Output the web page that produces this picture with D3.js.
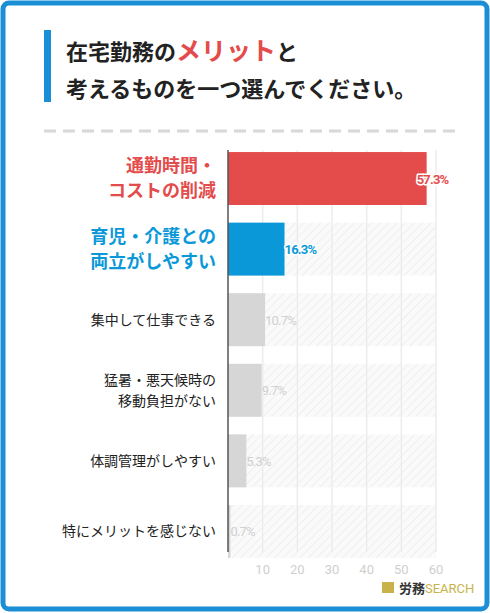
<!DOCTYPE html>
<html><head><meta charset="utf-8">
<script src="https://cdn.jsdelivr.net/npm/d3@7.9.0/dist/d3.min.js"></script>
<style>body{margin:0;background:#fff;font-family:"Noto Sans CJK JP","Noto Sans",sans-serif}</style>
</head><body>
<svg id="chart" width="490" height="613"></svg>
<script>
const labels = [["通勤時間・","コストの削減"],["育児・介護との","両立がしやすい"],["集中して仕事できる"],["猛暑・悪天候時の","移動負担がない"],["体調管理がしやすい"],["特にメリットを感じない"]];
const values = [57.3, 16.3, 10.7, 9.7, 5.3, 0.7];
const barColors = ["#e44b4b", "#0b98d8", "#d6d6d6", "#d6d6d6", "#d6d6d6", "#d6d6d6"];
const labelColors = ["#e44b4b", "#0b98d8", "#222", "#222", "#222", "#222"];
const valueColors = ["#e44b4b", "#0b98d8", "#d0d0d0", "#d0d0d0", "#d0d0d0", "#d0d0d0"];
const ticks = [10, 20, 30, 40, 50, 60];

const svg = d3.select('#chart');
const defs = svg.append('defs');
const pat = defs.append('pattern').attr('id','hatch').attr('patternUnits','userSpaceOnUse')
  .attr('width',6).attr('height',6).attr('patternTransform','rotate(45)');
pat.append('rect').attr('width',6).attr('height',6).attr('fill','#fafafa');
pat.append('line').attr('x1',0).attr('y1',0).attr('x2',0).attr('y2',6).attr('stroke','#ececec').attr('stroke-width',1.5);

// frame
svg.append('rect').attr('x',3).attr('y',3).attr('width',484).attr('height',606).attr('rx',6)
  .attr('fill','none').attr('stroke','#1b8fd6').attr('stroke-width',5);

// title
svg.append('rect').attr('x',44).attr('y',30).attr('width',7).attr('height',72).attr('fill','#1b8fd6');
const t1 = svg.append('text').attr('x',66).attr('y',60).attr('font-size',22).attr('font-weight',700).attr('fill','#222');
t1.append('tspan').text('在宅勤務の');
t1.append('tspan').attr('fill','#e44b4b').attr('font-size',25).text('メリット');
t1.append('tspan').text('と');
svg.append('text').attr('x',66).attr('y',97).attr('font-size',22).attr('font-weight',700).attr('fill','#222').text('考えるものを一つ選んでください。');
svg.append('line').attr('x1',44).attr('x2',462).attr('y1',131).attr('y2',131)
  .attr('stroke','#d8d8d8').attr('stroke-width',3).attr('stroke-dasharray','12,7');

const x = d3.scaleLinear().domain([0,60]).range([228,436]);
const y = d3.scaleBand().domain(d3.range(values.length)).range([145,565]).paddingInner(0.25).paddingOuter(0.1);

// hatched bands
svg.append('g').selectAll('rect').data(d3.range(1,values.length)).join('rect')
  .attr('x',x(0)).attr('y',i=>y(i)).attr('width',x(60)-x(0)).attr('height',y.bandwidth()).attr('fill','url(#hatch)');

// grid
svg.append('g').selectAll('line').data(ticks).join('line')
  .attr('x1',d=>x(d)).attr('x2',d=>x(d)).attr('y1',150).attr('y2',552)
  .attr('stroke','#ececec').attr('stroke-width',1.5);

// bars
svg.append('g').selectAll('rect').data(values).join('rect')
  .attr('x',x(0)).attr('y',(d,i)=>y(i)).attr('width',d=>x(d)-x(0)).attr('height',y.bandwidth())
  .attr('fill',(d,i)=>barColors[i]);

// axis line
svg.append('line').attr('x1',x(0)).attr('x2',x(0)).attr('y1',150).attr('y2',552).attr('stroke','#555').attr('stroke-width',1.5);

// values
svg.append('g').selectAll('text').data(values).join('text')
  .attr('x',d=>x(d)+(d>50?-10:0)).attr('y',(d,i)=>y(i)+y.bandwidth()/2+5)
  .attr('font-family','Roboto,sans-serif').attr('font-size',13).attr('font-weight',(d,i)=>i<2?700:400)
  .attr('letter-spacing',-0.8)
  .attr('fill',(d,i)=>valueColors[i]).attr('stroke','#fff').attr('stroke-width',(d,i)=>i<2?3:0)
  .attr('stroke-linejoin','round').attr('paint-order','stroke')
  .text(d=>d.toFixed(1)+'%');

// labels
const lg = svg.append('g').selectAll('text').data(labels).join('text')
  .attr('text-anchor','end').attr('fill',(d,i)=>labelColors[i])
  .attr('font-size',(d,i)=>i<2?18:14).attr('font-weight',(d,i)=>i<2?700:400);
lg.each(function(d,i){
  const el = d3.select(this), cy = y(i)+y.bandwidth()/2, lh = i<2?25:21;
  d.forEach((s,k)=>el.append('tspan').attr('x',216).attr('y',cy+(k-(d.length-1)/2)*lh+(i<2?6:5)).text(s));
});

// x tick labels
svg.append('g').selectAll('text').data(ticks).join('text')
  .attr('x',d=>x(d)).attr('y',574).attr('text-anchor','middle')
  .attr('font-family','Roboto,sans-serif').attr('font-size',13).attr('fill','#cfcfcf').text(d=>d);

// logo
svg.append('rect').attr('x',382).attr('y',582).attr('width',12).attr('height',11).attr('fill','#c9b24a');
const lt = svg.append('text').attr('x',399).attr('y',593).attr('font-size',13).attr('font-weight',700);
lt.append('tspan').attr('fill','#333').text('労務');
lt.append('tspan').attr('fill','#c9b24a').attr('font-family','Roboto,sans-serif').attr('font-weight',400).text('SEARCH');
</script>
</body></html>
